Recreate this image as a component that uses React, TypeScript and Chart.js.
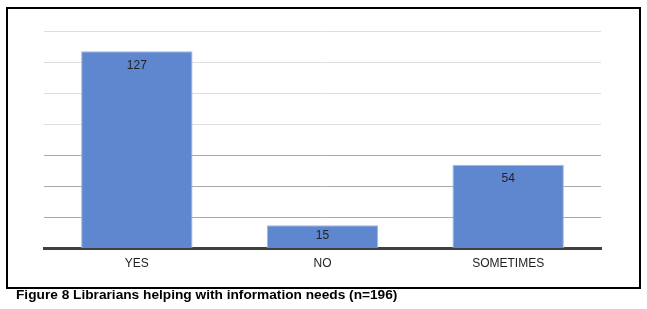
import React, { useEffect, useRef } from "react";
import { Chart, registerables } from "chart.js";

Chart.register(...registerables);

const categories = ["YES", "NO", "SOMETIMES"];
const values = [127, 15, 54];
const yMax = 140;
const yStep = 20;
const caption = "Figure 8 Librarians helping with information needs (n=196)";

const FONT = "'Liberation Sans', Arial, sans-serif";

export default function App() {
  const ref = useRef<HTMLCanvasElement | null>(null);

  useEffect(() => {
    if (!ref.current) return;
    const labelPlugin = {
      id: "barLabels",
      afterDatasetsDraw(chart: any) {
        const ctx = chart.ctx;
        const meta = chart.getDatasetMeta(0);
        ctx.save();
        ctx.font = `12px ${FONT}`;
        ctx.fillStyle = "#222222";
        ctx.textAlign = "center";
        ctx.textBaseline = "middle";
        meta.data.forEach((el: any, i: number) => {
          const h = el.base - el.y;
          const off = Math.min(14, h / 2 - 1);
          ctx.fillText(String(values[i]), el.x, el.y + off);
        });
        ctx.restore();
      },
    };
    const chart = new Chart(ref.current, {
      type: "bar",
      data: {
        labels: categories,
        datasets: [
          {
            data: values,
            backgroundColor: "#5f87cf",
            borderColor: "#9fb6e2",
            borderWidth: 1,
            categoryPercentage: 1,
            barPercentage: 0.6,
          },
        ],
      },
      options: {
        animation: false,
        responsive: false,
        maintainAspectRatio: false,
        layout: { padding: { left: 44, right: 46, top: 31, bottom: 30 } },
        plugins: {
          legend: { display: false },
          tooltip: { enabled: false },
          title: { display: false },
        },
        scales: {
          x: {
            grid: { display: false, drawTicks: false },
            border: { display: true, color: "#404040", width: 3 },
            ticks: { color: "#222222", font: { family: FONT, size: 12 }, padding: 8 },
          },
          y: {
            min: 0,
            max: yMax,
            ticks: { display: false, stepSize: yStep },
            border: { display: false },
            grid: {
              drawTicks: false,
              lineWidth: 1,
              color: (c: any) => {
                const v = c.tick ? c.tick.value : 0;
                if (v === 0) return "rgba(0,0,0,0)";
                return v >= 80 ? "#dedede" : "#a9a9a9";
              },
            },
          },
        },
      },
      plugins: [labelPlugin],
    });
    return () => chart.destroy();
  }, []);

  return (
    <div style={{ position: "absolute", left: 0, top: 0, width: 647, height: 309, background: "#fff" }}>
      <div
        style={{
          position: "absolute",
          left: 6,
          top: 7,
          width: 631,
          height: 278,
          border: "2px solid #000",
        }}
      />
      <canvas
        ref={ref}
        width={647}
        height={309}
        style={{ position: "absolute", left: 0, top: 0, width: 647, height: 309 }}
      />
      <div
        style={{
          position: "absolute",
          left: 16,
          top: 287,
          fontFamily: FONT,
          fontWeight: "bold",
          fontSize: 13.7,
          lineHeight: "16px",
          color: "#000",
          whiteSpace: "nowrap",
        }}
      >
        {caption}
      </div>
    </div>
  );
}
